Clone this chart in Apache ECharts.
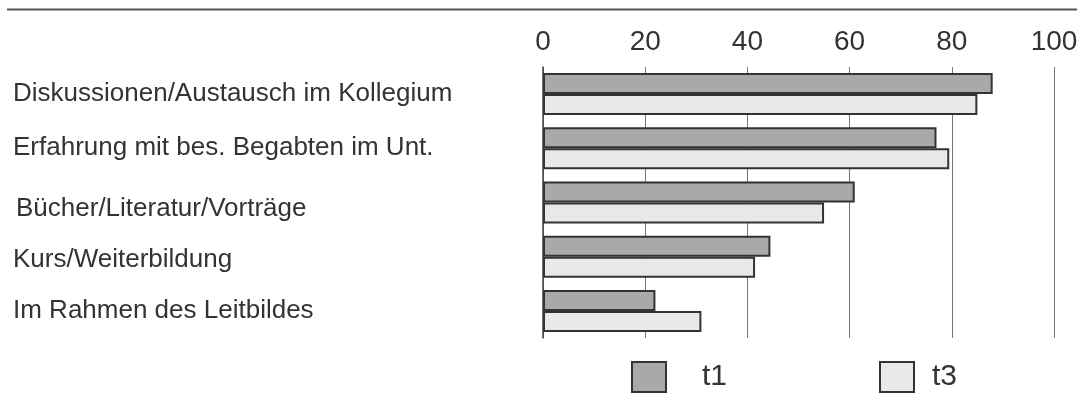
<!DOCTYPE html>
<html>
<head>
<meta charset="utf-8">
<script src="https://cdn.jsdelivr.net/npm/echarts@6/dist/echarts.min.js"></script>
<style>
  html, body { margin: 0; padding: 0; background: #fff; }
  #chart { width: 1083px; height: 410px; }
</style>
</head>
<body>
<div id="chart"></div>
<script>
// Kategorien (von oben nach unten)
const categories = [
  'Diskussionen/Austausch im Kollegium',
  'Erfahrung mit bes. Begabten im Unt.',
  'Bücher/Literatur/Vorträge',
  'Kurs/Weiterbildung',
  'Im Rahmen des Leitbildes'
];
const seriesNames = ['t1', 't3'];
const t1Values = [88, 77, 61, 44.5, 22];
const t3Values = [85, 79.5, 55, 41.5, 31];
const xTicks = [0, 20, 40, 60, 80, 100];

// kleine Verschiebungen der Beschriftungen wie im Original (rich-Stil je Kategorie)
const labelStyleKey = ['n', 'n', 'b', 'k', 'n'];

const chart = echarts.init(document.getElementById('chart'));

const labelFont = 'Liberation Sans, Arial, sans-serif';

const option = {
  animation: false,
  backgroundColor: '#fff',
  grid: { left: 543, right: 29, top: 67, bottom: 72, containLabel: false, outerBoundsMode: 'none' },
  graphic: [
    {
      // Linie oben
      type: 'line',
      shape: { x1: 7, y1: 9.5, x2: 1077, y2: 9.5 },
      style: { stroke: '#555', lineWidth: 2 }
    }
  ],
  legend: [
    {
      data: [seriesNames[0]],
      left: 631, top: 361, padding: 0,
      icon: 'rect',
      itemWidth: 34, itemHeight: 30,
      textStyle: { fontSize: 30, color: '#333', fontFamily: labelFont, padding: [0, 0, 0, 31] }
    },
    {
      data: [seriesNames[1]],
      left: 879, top: 361, padding: 0,
      icon: 'rect',
      itemWidth: 34, itemHeight: 30,
      textStyle: { fontSize: 30, color: '#333', fontFamily: labelFont, padding: [0, 0, 0, 13] }
    }
  ],
  xAxis: {
    type: 'value',
    position: 'top',
    min: xTicks[0],
    max: xTicks[xTicks.length - 1],
    interval: 20,
    axisLine: { show: false },
    axisTick: { show: false },
    axisLabel: { fontSize: 28, color: '#333', fontFamily: labelFont, margin: 11 },
    splitLine: { show: true, lineStyle: { color: '#777', width: 1 } }
  },
  yAxis: {
    type: 'category',
    inverse: true,
    data: categories,
    axisLine: { show: true, lineStyle: { color: '#444', width: 1.5 } },
    axisTick: { show: false },
    axisLabel: {
      align: 'left',
      margin: 530,
      fontSize: 26,
      color: '#333',
      fontFamily: labelFont,
      formatter: (value, i) => '{' + labelStyleKey[i] + '|' + value + '}',
      rich: {
        n: { fontSize: 26, color: '#333', fontFamily: labelFont },
        b: { fontSize: 26, color: '#333', fontFamily: labelFont, padding: [12, 0, 0, 3] },
        k: { fontSize: 26, color: '#333', fontFamily: labelFont, padding: [7, 0, 0, 0] }
      }
    }
  },
  series: [
    {
      name: seriesNames[0],
      type: 'bar',
      data: t1Values,
      barWidth: 21,
      barGap: '0%',
      itemStyle: { color: '#a9a9a9', borderColor: '#333', borderWidth: 2 }
    },
    {
      name: seriesNames[1],
      type: 'bar',
      data: t3Values,
      barWidth: 21,
      barGap: '0%',
      itemStyle: { color: '#e8e8e8', borderColor: '#333', borderWidth: 2 }
    }
  ]
};

chart.setOption(option);
</script>
</body>
</html>
